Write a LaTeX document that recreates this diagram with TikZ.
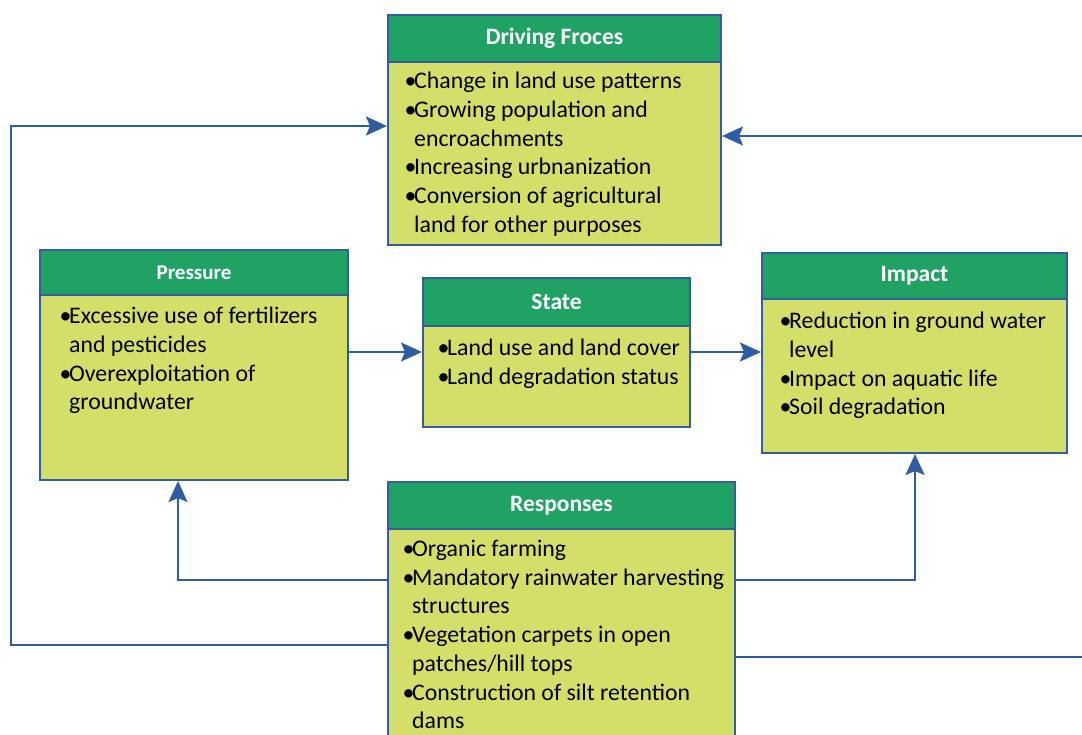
\documentclass[tikz,border=0pt]{standalone}
\usepackage{fontspec}
\setmainfont{Carlito}
\usetikzlibrary{arrows.meta}
\definecolor{hdrgreen}{RGB}{33,162,101}
\definecolor{bodyyel}{RGB}{212,223,106}
\definecolor{bordblue}{RGB}{52,92,160}
\definecolor{lineblue}{RGB}{47,93,163}
\newcommand{\bl}[1]{\makebox[11pt][l]{\hspace{1.5pt}•}#1}
\newcommand{\ct}[1]{\hspace*{11pt}#1}
\tikzset{
  hdr/.style={draw=bordblue, line width=2pt, fill=hdrgreen, text=white, font=\fontsize{23.5}{26}\selectfont\bfseries, inner sep=0pt},
  bodybox/.style={draw=bordblue, line width=2pt, fill=bodyyel, inner sep=0pt},
  btext/.style={anchor=north west, align=left, inner sep=0pt, font=\fontsize{23.8}{28.7}\selectfont},
  conn/.style={draw=lineblue, line width=2.5pt, -{Stealth[length=21pt,width=19pt,inset=4pt]}},
  connp/.style={draw=lineblue, line width=2.5pt}
}
\begin{document}
\begin{tikzpicture}[x=1pt,y=-1pt]
\clip (0,0) rectangle (1082,735);
\fill[white] (0,0) rectangle (1082,735);
% Driving Forces
\node[bodybox, minimum width=333pt, minimum height=183pt] (drvB) at (554.5,153.5) {};
\node[hdr, minimum width=333pt, minimum height=47pt] (drvH) at (554.5,38.5) {Driving Froces};
\node[btext] (drvT) at (403,72) {\bl{Change in land use patterns}\\\bl{Growing population and}\\\ct{encroachments}\\\bl{Increasing urbnanization}\\\bl{Conversion of agricultural}\\\ct{land for other purposes}};
% Pressure
\node[bodybox, minimum width=308pt, minimum height=185pt] (presB) at (194,387.5) {};
\node[hdr, minimum width=308pt, minimum height=45pt, font=\fontsize{21}{24}\selectfont\bfseries] (presH) at (194,272.5) {Pressure};
\node[btext] (presT) at (58,307) {\bl{Excessive use of fertilizers}\\\ct{and pesticides}\\\bl{Overexploitation of}\\\ct{groundwater}};
% State
\node[bodybox, minimum width=267pt, minimum height=101pt] (stB) at (556.5,376.5) {};
\node[hdr, minimum width=267pt, minimum height=48pt] (stH) at (556.5,302) {State};
\node[btext] (stT) at (436,339) {\bl{Land use and land cover}\\\bl{Land degradation status}};
% Impact
\node[bodybox, minimum width=305pt, minimum height=154pt] (impB) at (914.5,376) {};
\node[hdr, minimum width=305pt, minimum height=46pt] (impH) at (914.5,276) {Impact};
\node[btext] (impT) at (778,312) {\bl{Reduction in ground water}\\\ct{level}\\\bl{Impact on aquatic life}\\\bl{Soil degradation}};
% Responses
\node[bodybox, minimum width=347pt, minimum height=220pt] (respB) at (561.5,639) {};
\node[hdr, minimum width=347pt, minimum height=47pt] (respH) at (561.5,505.5) {Responses};
\node[btext] (respT) at (401,540) {\bl{Organic farming}\\\bl{Mandatory rainwater harvesting}\\\ct{structures}\\\bl{Vegetation carpets in open}\\\ct{patches/hill tops}\\\bl{Construction of silt retention}\\\ct{dams}};
% connectors
\draw[conn] (presB.east |- 0,352) -- (stB.west |- 0,352);
\draw[conn] (stB.east |- 0,352) -- (impB.west |- 0,352);
\draw[conn] (respB.west |- 0,580) -| (178,0 |- presB.south);
\draw[conn] (respB.east |- 0,580) -| (915,0 |- impB.south);
\coordinate (leftc) at (11,645);
\draw[conn] (respB.west |- 0,645) -- (leftc) |- (drvB.west |- 0,126);
\coordinate (rlo) at (1090,657);
\coordinate (rhi) at (1090,136);
\draw[connp] (respB.east |- 0,657) -- (rlo);
\draw[conn] (rhi) -- (drvB.east |- 0,136);
\end{tikzpicture}
\end{document}
